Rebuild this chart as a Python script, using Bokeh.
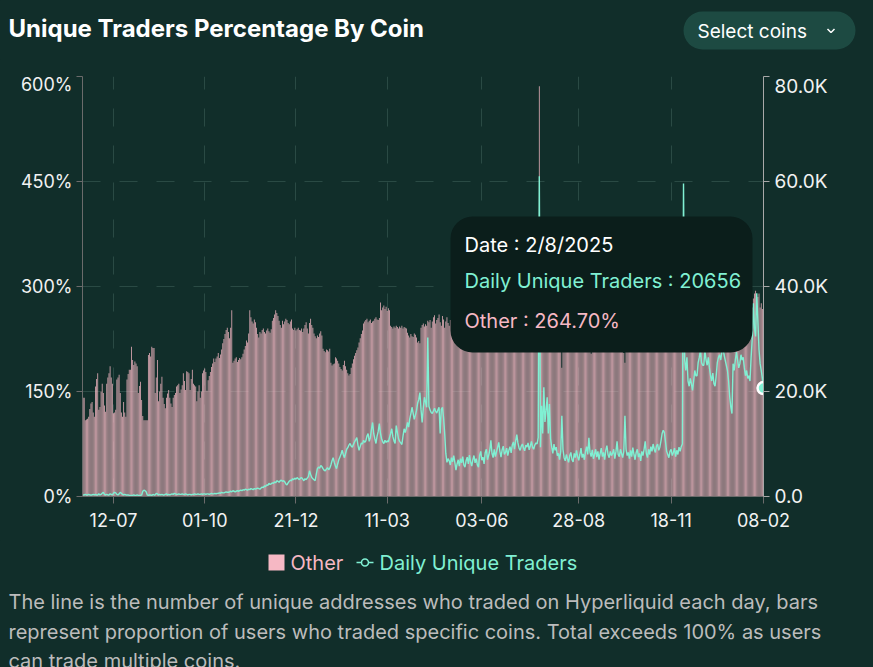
import pandas as pd
from bokeh.plotting import figure
from bokeh.layouts import column
from bokeh.models import (Range1d, LinearAxis, FixedTicker, DatetimeTickFormatter,
                          BoxAnnotation, Label, ColumnDataSource)
from bokeh.embed import file_html
from bokeh.resources import INLINE

# ---------------- data ----------------
START_DATE = "2023-06-15"

other_pct = [
    141,141,109,110,111,114,125,133,135,120,
    114,157,168,176,124,128,150,161,148,130,
    121,161,170,176,186,170,161,119,120,124,
    167,170,174,148,120,114,135,120,114,167,
    175,181,181,214,195,188,193,190,186,148,
    158,164,138,115,109,109,109,109,202,205,
    200,214,212,212,148,170,195,136,150,161,
    171,141,132,126,141,147,152,141,133,128,
    141,145,148,157,159,161,148,153,159,176,
    165,152,179,178,176,152,168,181,161,159,
    157,136,150,159,141,150,176,180,183,178,
    151,166,172,178,185,190,197,192,197,200,
    205,198,203,210,219,225,232,238,241,235,
    226,241,266,191,194,197,199,192,195,198,
    196,199,204,210,215,223,220,233,266,256,
    250,247,253,249,241,232,227,235,233,238,
    240,235,233,237,240,236,234,239,251,255,
    260,266,262,258,251,245,241,251,246,250,
    254,252,248,246,250,253,240,238,241,237,
    239,241,238,237,240,235,240,245,249,240,
    233,248,254,245,241,233,229,226,230,228,
    233,236,230,211,208,206,210,209,207,211,
    191,187,189,190,199,197,194,190,185,182,
    180,188,194,186,181,176,173,175,184,190,
    196,201,205,209,213,220,226,232,237,247,
    250,252,254,249,251,253,248,250,251,254,
    256,253,252,255,277,266,270,273,268,271,
    265,269,266,244,242,240,243,241,244,242,
    240,243,241,244,240,242,241,240,234,230,
    227,232,229,228,233,231,227,220,222,219,
    241,245,247,243,246,244,251,249,252,241,
    250,256,259,247,252,255,260,249,244,258,
    253,241,250,256,248,244,252,246,258,262,
    250,240,255,263,259,248,242,256,261,265,
    254,246,240,258,264,260,251,244,259,266,
    262,255,247,241,257,263,268,260,252,245,
    258,264,270,262,249,244,255,262,267,259,
    250,243,258,265,260,253,246,256,263,268,
    261,252,247,259,266,271,263,254,248,257,
    262,258,250,244,256,263,266,259,251,246,
    258,262,255,249,260,586,252,247,258,262,
    255,248,240,236,230,210,238,250,256,248,
    244,253,259,240,226,184,236,248,255,262,
    254,247,241,256,263,258,250,245,257,262,
    268,260,253,248,256,264,259,252,246,230,
    217,204,238,251,258,262,255,248,243,257,
    265,261,254,247,258,266,270,262,255,249,
    258,264,260,253,246,257,263,255,248,230,
    205,191,224,246,254,261,266,258,251,245,
    257,263,268,260,252,247,259,265,262,255,
    248,243,256,263,268,261,254,249,258,264,
    270,263,256,250,259,266,272,264,257,251,
    262,268,273,266,259,253,262,268,274,267,
    260,255,264,270,276,268,261,256,266,272,
    278,270,263,258,268,274,279,272,265,260,
    269,275,281,273,266,261,270,276,282,274,
    268,262,272,278,284,276,269,264,274,280,
    285,277,271,265,276,281,270,262,275,282,
    287,279,272,268,278,284,289,281,275,270,
    280,286,283,294,270,283,290,294,276,285,
    290,270,276,268,264.7,
]

daily_traders_k = [
    0.3,0.3,0.4,0.3,0.3,0.4,0.3,0.3,0.3,0.4,
    0.3,0.4,0.3,0.3,0.5,0.3,0.4,0.6,0.8,0.4,
    0.3,0.4,0.3,0.3,0.5,0.4,0.3,0.6,0.8,0.7,
    0.4,0.3,0.5,0.8,0.6,0.4,0.3,0.4,0.3,0.3,
    0.3,0.2,0.2,0.2,0.2,0.3,0.2,0.2,0.3,0.2,
    0.2,0.2,0.3,1.0,1.2,1.1,0.9,0.3,0.2,0.3,
    0.3,0.2,0.4,0.3,0.3,0.6,0.5,0.3,0.4,0.3,
    0.4,0.3,0.3,0.4,0.5,0.3,0.4,0.3,0.4,0.5,
    0.4,0.6,0.5,0.4,0.4,0.5,0.4,0.4,0.5,0.4,
    0.4,0.5,0.4,0.3,0.4,0.4,0.3,0.4,0.4,0.5,
    0.4,0.4,0.5,0.4,0.4,0.5,0.4,0.5,0.5,0.4,
    0.5,0.5,0.4,0.5,0.6,0.5,0.5,0.6,0.5,0.6,
    0.6,0.7,0.6,0.8,0.7,0.7,0.8,0.9,0.8,0.8,
    0.9,1.0,0.9,1.1,1.0,0.9,1.0,1.1,1.0,1.1,
    1.2,1.1,1.3,1.2,1.4,1.3,1.2,1.4,1.3,1.5,
    1.4,1.3,1.5,1.4,1.5,1.6,1.5,1.4,1.6,1.8,
    1.7,2.0,1.9,2.2,2.1,2.5,2.3,2.4,2.6,2.5,
    2.8,2.6,3.0,2.9,2.7,3.0,3.1,2.9,3.0,2.8,
    2.4,2.2,2.6,2.9,3.1,3.0,3.4,3.2,3.5,3.3,
    3.6,3.4,3.2,3.5,3.6,3.3,3.0,3.4,3.2,3.5,
    3.8,4.9,4.2,3.6,3.4,3.2,3.0,4.2,5.3,5.6,
    5.4,5.9,5.7,5.3,5.0,4.9,5.2,5.5,5.1,5.4,
    6.0,6.8,7.4,6.5,5.8,5.3,6.2,7.0,7.5,8.1,
    8.8,8.0,7.4,8.2,9.0,9.3,9.8,10.1,9.6,9.4,
    9.9,10.4,10.8,11.2,9.8,8.8,9.5,10.2,10.0,10.7,
    10.3,10.6,11.5,12.0,10.5,11.2,12.8,14.1,12.0,11.0,
    10.1,11.5,12.4,13.9,12.0,11.0,10.4,10.1,10.7,10.3,
    10.6,10.4,11.2,12.0,12.9,11.4,10.6,10.1,13.5,12.2,
    11.0,10.5,10.2,9.9,11.5,12.9,12.2,13.0,14.1,13.2,
    14.8,15.8,17.0,15.9,14.7,15.5,16.4,17.8,18.5,19.8,
    16.5,14.1,16.8,18.9,18.0,17.0,30.3,17.2,16.5,16.0,
    15.8,16.3,16.8,16.2,15.9,16.5,17.0,12.0,16.6,17.0,
    15.0,12.0,8.2,6.5,7.2,6.8,6.0,7.4,6.6,7.8,
    6.5,5.0,6.2,7.0,5.8,7.2,6.4,7.6,6.0,5.6,
    6.8,7.5,6.2,7.9,6.6,5.8,7.0,7.8,6.4,7.2,
    6.0,5.6,7.8,8.6,6.9,7.5,6.2,8.4,9.0,7.0,
    7.8,8.8,10.7,8.2,7.4,9.0,7.6,8.5,9.4,10.3,
    8.6,7.5,8.9,9.6,8.0,8.4,9.2,7.8,8.8,9.5,
    8.3,9.8,10.4,9.0,10.6,11.8,10.2,9.2,8.8,9.6,
    10.0,9.2,8.7,9.8,9.4,10.2,8.9,9.6,10.5,9.4,
    9.0,9.8,10.2,10.0,11.2,61.0,9.4,17.3,12.0,20.8,
    14.2,16.4,18.9,12.0,17.6,11.0,9.4,8.2,10.0,8.8,
    9.4,7.8,8.2,7.0,8.6,15.4,9.0,7.4,6.8,8.0,
    7.2,6.5,7.8,8.4,7.0,6.6,8.2,7.4,8.8,7.6,
    6.9,8.0,9.2,7.4,8.1,7.0,8.6,9.5,8.0,11.2,
    8.4,7.6,8.9,7.2,8.0,9.0,7.5,8.6,7.0,8.2,
    9.2,7.6,8.4,7.0,8.8,9.7,8.0,7.4,8.6,7.8,
    8.2,9.0,7.2,8.5,10.5,8.0,7.6,9.0,8.2,7.4,
    8.6,15.4,9.0,7.8,8.4,7.2,8.8,7.6,9.3,8.0,
    7.0,8.4,9.0,7.5,8.2,6.8,8.6,7.8,9.0,10.5,
    8.2,7.4,9.0,8.0,9.5,8.6,10.0,9.0,8.4,9.6,
    10.0,8.8,9.4,10.6,12.0,12.6,12.2,10.4,8.6,8.0,
    7.4,8.6,9.0,7.8,8.4,9.2,7.6,8.8,8.0,9.4,
    8.6,9.5,10.0,59.6,26.0,24.0,26.5,22.0,21.0,22.5,
    21.5,20.2,22.0,24.0,23.0,23.0,25.5,26.5,27.8,25.5,
    25.0,25.0,27.8,26.0,25.0,26.5,24.5,23.0,22.0,23.5,
    21.5,21.0,23.0,25.5,26.5,27.0,26.0,27.5,28.4,27.0,
    26.0,25.0,24.0,22.0,19.0,17.0,15.8,25.3,24.0,26.0,
    27.5,26.0,24.5,25.3,27.0,26.0,26.5,24.5,23.0,24.0,
    22.5,23.0,22.0,26.5,30.0,36.8,32.0,30.5,38.7,33.5,
    28.0,25.3,24.0,22.5,20.656,
]

assert len(other_pct) == len(daily_traders_k), (len(other_pct), len(daily_traders_k))

x_tick_dates = ["2023-07-12", "2023-10-01", "2023-12-21", "2024-03-11",
                "2024-06-03", "2024-08-28", "2024-11-18", "2025-02-08"]
pct_ticks = [0, 150, 300, 450, 600]
pct_labels = ["0%", "150%", "300%", "450%", "600%"]
trader_ticks = [0, 20000, 40000, 60000, 80000]
trader_labels = ["0.0", "20.0K", "40.0K", "60.0K", "80.0K"]

tooltip_date = "2/8/2025"
tooltip_traders = 20656
tooltip_other = 264.70

# ---------------- style ----------------
BG = "#112e2a"
GRID = "#2a4a44"
PINK = "#f6b8c4"
MINT = "#80f0d3"
TIP_BG = "#0b1e1b"
BTN_BG = "#1d4a42"
FOOT = "#bcbcbc"
FONT = "Inter"
WTOT = 873

DAY = 86400000


def clean(f, styles):
    try:
        f.frame_align = False
    except Exception:
        pass
    f.outline_line_color = BG
    f.outline_line_alpha = 1
    f.outline_line_width = 1
    f.styles = styles


def bare(height, styles):
    f = figure(width=WTOT, height=height, output_backend="svg", toolbar_location=None,
               x_range=Range1d(0, WTOT), y_range=Range1d(height, 0),
               x_axis_location=None, y_axis_location=None,
               min_border=0, min_border_left=0, min_border_right=0,
               min_border_top=0, min_border_bottom=0,
               background_fill_color=BG, border_fill_color=BG)
    f.grid.visible = False
    clean(f, styles)
    return f


def dlab(f, text, x, y, size, color, bold=False, align="left"):
    f.add_layout(Label(x=x, y=y, text=text, text_font=FONT, text_font_size=f"{size}px",
                       text_color=color, text_font_style="bold" if bold else "normal",
                       text_align=align, text_baseline="middle"))


ON_TOP = {"position": "relative", "z-index": "5", "border": "none", "outline": "none"}

# ---------------- header (page y 0-60) ----------------
HEAD_H = 60
head = bare(HEAD_H, ON_TOP)
dlab(head, "Unique Traders Percentage By Coin", 8, 28, 24, "#ffffff", bold=True)
head.add_layout(BoxAnnotation(left=683, right=855, top=11, bottom=49, fill_color=BTN_BG,
                              fill_alpha=1, line_color=None, border_radius=19,
                              level="underlay"))
dlab(head, "Select coins", 697, 31, 19, "#ffffff")
head.line([827, 830.5, 834], [28.5, 32, 28.5], line_color="#ffffff", line_width=1.5)

# ---------------- chart (page y 59-540, x -1..874) ----------------
CH_TOP = 59
CH_LEFT = -1
CH_W = 875
CH_H = 540 - CH_TOP
FR_L, FR_T, FR_R, FR_B = 82, 76, 765, 496
dates = pd.date_range(START_DATE, periods=len(other_pct), freq="D")
src = ColumnDataSource(dict(date=dates, other=other_pct,
                            traders=[v * 1000 for v in daily_traders_k]))

x0 = dates[0] - pd.Timedelta(hours=12)
x1 = dates[-1]

p = figure(width=CH_W, height=CH_H, x_axis_type="datetime", output_backend="svg",
           toolbar_location=None, x_range=Range1d(x0, x1), y_range=Range1d(0, 600),
           min_border_left=FR_L - CH_LEFT, min_border_right=CH_W - (FR_R - CH_LEFT),
           min_border_top=FR_T - CH_TOP, min_border_bottom=CH_H - (FR_B - CH_TOP),
           background_fill_color=BG, border_fill_color=BG)
clean(p, {"margin-top": "-1px", "margin-left": "-1px", "position": "relative",
          "z-index": "1", "border": "none", "outline": "none"})
p.extra_y_ranges = {"traders": Range1d(0, 80000)}

p.vbar(x="date", top="other", width=0.78 * DAY, source=src, fill_color=PINK,
       fill_alpha=0.85, line_color=None)
p.line(x="date", y="traders", source=src, y_range_name="traders", line_color=MINT,
       line_width=1.4)
p.scatter(x=[dates[-1]], y=[tooltip_traders], y_range_name="traders", size=12,
          fill_color=MINT, line_color="white", line_width=2.5)

tick_ms = [pd.Timestamp(d).value // 10**6 for d in x_tick_dates]

p.xgrid.ticker = FixedTicker(ticks=tick_ms)
p.ygrid.ticker = FixedTicker(ticks=pct_ticks)
for g in (p.xgrid, p.ygrid):
    g.grid_line_color = GRID
    g.grid_line_dash = "18 19"
    g.grid_line_width = 1

xa = p.xaxis[0]
xa.ticker = FixedTicker(ticks=tick_ms)
xa.formatter = DatetimeTickFormatter(days="%d-%m", months="%d-%m", years="%d-%m",
                                     hours="%d-%m", minutes="%d-%m")
xa.axis_line_color = "#6b6b6b"
xa.major_tick_line_color = "#6b6b6b"
xa.major_tick_out = 7
xa.major_tick_in = 0
xa.minor_tick_line_color = None
xa.major_label_text_color = "#f2f2f2"
xa.major_label_text_font = FONT
xa.major_label_text_font_size = "18px"
xa.major_label_standoff = 9

ya = p.yaxis[0]
ya.ticker = FixedTicker(ticks=pct_ticks)
ya.major_label_overrides = {t: (l if t != 600 else "\n" + l) for t, l in zip(pct_ticks, pct_labels)}
ya.major_label_text_line_height = 0.67
ya.axis_line_color = "#6b6b6b"
ya.major_tick_line_color = "#6b6b6b"
ya.major_tick_out = 6
ya.major_tick_in = 0
ya.minor_tick_line_color = None
ya.major_label_text_color = "#f2f2f2"
ya.major_label_text_font = FONT
ya.major_label_text_font_size = "18px"
ya.major_label_standoff = 4

ra = LinearAxis(y_range_name="traders", ticker=FixedTicker(ticks=trader_ticks))
ra.major_label_overrides = {t: (l if t != 80000 else "\n" + l) for t, l in zip(trader_ticks, trader_labels)}
ra.major_label_text_line_height = 0.67
ra.axis_line_color = "#a8a8a8"
ra.major_tick_line_color = "#a8a8a8"
ra.major_tick_out = 6
ra.major_tick_in = 0
ra.minor_tick_line_color = None
ra.major_label_text_color = "#f2f2f2"
ra.major_label_text_font = FONT
ra.major_label_text_font_size = "19px"
ra.major_label_standoff = 5
p.add_layout(ra, "right")

# tooltip (canvas units for the box, frame-relative screen units for the texts)
p.add_layout(BoxAnnotation(left=450 - CH_LEFT, right=752 - CH_LEFT,
                           top=216 - CH_TOP, bottom=352 - CH_TOP,
                           left_units="canvas", right_units="canvas",
                           top_units="canvas", bottom_units="canvas",
                           fill_color=TIP_BG, fill_alpha=1, line_color=None,
                           border_radius=22, level="overlay"))


def slab(text, px, py, size, color):
    p.add_layout(Label(x=px - FR_L, y=FR_B - py, x_units="screen", y_units="screen",
                       text=text, text_font=FONT, text_font_size=f"{size}px",
                       text_color=color, text_align="left", text_baseline="middle",
                       level="overlay"))


slab(f"Date : {tooltip_date}", 464, 244, 20, "#ffffff")
slab(f"Daily Unique Traders : {tooltip_traders}", 464, 280, 20, MINT)
slab(f"Other : {tooltip_other:.2f}%", 464, 320, 20, PINK)

# ---------------- footer (page y 540-667) ----------------
FT_TOP = 540
FT_H = 667 - FT_TOP
foot = bare(FT_H, ON_TOP)
foot.scatter([276], [562 - FT_TOP], marker="square", size=16, fill_color=PINK,
             line_color=None)
dlab(foot, "Other", 290, 562 - FT_TOP, 20, PINK)
foot.line([356, 373], [562 - FT_TOP, 562 - FT_TOP], line_color=MINT, line_width=1.5)
foot.scatter([364.5], [562 - FT_TOP], marker="circle", size=7, fill_color=BG,
             line_color=MINT, line_width=1.5)
dlab(foot, "Daily Unique Traders", 379, 562 - FT_TOP, 20, MINT)
dlab(foot, "The line is the number of unique addresses who traded on Hyperliquid each day, bars",
     8, 601 - FT_TOP, 20, FOOT)
dlab(foot, "represent proportion of users who traded specific coins. Total exceeds 100% as users",
     8, 631 - FT_TOP, 20, FOOT)
dlab(foot, "can trade multiple coins.", 8, 660 - FT_TOP, 20, FOOT)

page = column(head, p, foot, spacing=0, width=WTOT, height=667,
              styles={"overflow": "hidden", "background-color": BG})
open("out.html", "w").write(file_html(page, INLINE))
